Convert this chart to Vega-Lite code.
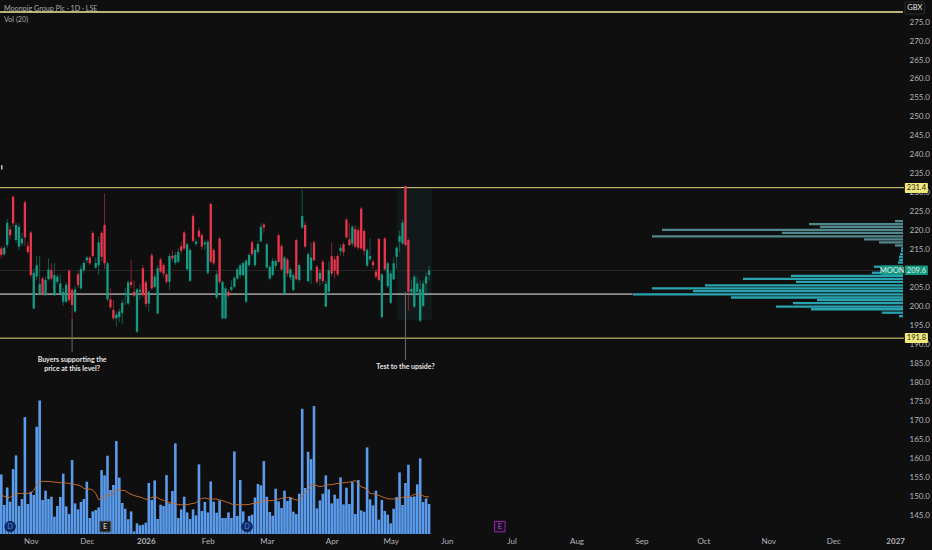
{"$schema":"https://vega.github.io/schema/vega-lite/v6.json","width":904,"height":534,"padding":{"left":0,"top":0,"right":28,"bottom":16},"autosize":{"type":"none"},"background":"#0f0f0f","config":{"view":{"stroke":null},"font":"Lato","scale":{"continuousPadding":0}},"datasets":{"bars":[
{"bar":0,"open":215.4,"high":216,"low":212.8,"close":213.7,"volume":596,"ma":390},
{"bar":1,"open":213.9,"high":216.2,"low":213.4,"close":215.6,"volume":290,"ma":376},
{"bar":2,"open":216.3,"high":223.2,"low":215.5,"close":222.2,"volume":466,"ma":366},
{"bar":3,"open":220.4,"high":221.5,"low":217.8,"close":218.9,"volume":323,"ma":366},
{"bar":4,"open":229,"high":229.4,"low":221,"close":222,"volume":649,"ma":390},
{"bar":5,"open":217.6,"high":222.2,"low":216.8,"close":221.6,"volume":786,"ma":400},
{"bar":6,"open":215.9,"high":222,"low":215,"close":221.1,"volume":280,"ma":406},
{"bar":7,"open":216.7,"high":219.5,"low":216,"close":218,"volume":350,"ma":406},
{"bar":8,"open":227.5,"high":228,"low":216,"close":218.3,"volume":1169,"ma":406},
{"bar":9,"open":216,"high":217,"low":214,"close":214.5,"volume":300,"ma":406},
{"bar":10,"open":219.6,"high":220,"low":207.8,"close":208.4,"volume":423,"ma":413},
{"bar":11,"open":199.6,"high":210,"low":199.4,"close":209,"volume":390,"ma":433},
{"bar":12,"open":208,"high":213.4,"low":207,"close":211,"volume":1072,"ma":490},
{"bar":13,"open":203.3,"high":213.4,"low":203,"close":206,"volume":1335,"ma":523},
{"bar":14,"open":207.5,"high":208,"low":203,"close":203.3,"volume":340,"ma":526},
{"bar":15,"open":203.1,"high":208,"low":202.8,"close":207.1,"volume":433,"ma":526},
{"bar":16,"open":207.3,"high":212.8,"low":207,"close":209.9,"volume":350,"ma":526},
{"bar":17,"open":209.7,"high":211.5,"low":207,"close":207.5,"volume":373,"ma":523},
{"bar":18,"open":203.1,"high":211.5,"low":202.8,"close":208.4,"volume":173,"ma":519},
{"bar":19,"open":206.6,"high":208.5,"low":206,"close":208,"volume":280,"ma":516},
{"bar":20,"open":203.6,"high":208.6,"low":203,"close":206.2,"volume":370,"ma":513},
{"bar":21,"open":201.4,"high":205,"low":200.3,"close":204,"volume":603,"ma":513},
{"bar":22,"open":201.4,"high":206.5,"low":201,"close":205.8,"volume":276,"ma":510},
{"bar":23,"open":209.5,"high":210,"low":201.2,"close":201.8,"volume":200,"ma":506},
{"bar":24,"open":204.5,"high":205,"low":196.5,"close":200.5,"volume":739,"ma":503},
{"bar":25,"open":198.8,"high":205.5,"low":198.5,"close":204.6,"volume":306,"ma":493},
{"bar":26,"open":208.6,"high":209.5,"low":205,"close":205.8,"volume":246,"ma":490},
{"bar":27,"open":204.9,"high":211,"low":204.5,"close":210,"volume":320,"ma":480},
{"bar":28,"open":209.7,"high":212,"low":209,"close":211.6,"volume":350,"ma":456},
{"bar":29,"open":212.3,"high":213.5,"low":211.5,"close":213,"volume":523,"ma":450},
{"bar":30,"open":213,"high":213.5,"low":211,"close":211.5,"volume":160,"ma":450},
{"bar":31,"open":219.5,"high":220,"low":213,"close":213.4,"volume":226,"ma":440},
{"bar":32,"open":210.4,"high":213,"low":210,"close":211.6,"volume":240,"ma":406},
{"bar":33,"open":211,"high":218.5,"low":208.4,"close":217,"volume":266,"ma":343},
{"bar":34,"open":219.5,"high":220,"low":212,"close":213.2,"volume":639,"ma":356},
{"bar":35,"open":221.6,"high":229.9,"low":210,"close":211.5,"volume":586,"ma":373},
{"bar":36,"open":202,"high":212,"low":201.5,"close":211.5,"volume":783,"ma":386},
{"bar":37,"open":202,"high":204.9,"low":199.5,"close":199.9,"volume":440,"ma":396},
{"bar":38,"open":199.2,"high":201.8,"low":196.5,"close":197,"volume":490,"ma":406},
{"bar":39,"open":197,"high":198.8,"low":194.8,"close":198,"volume":929,"ma":446},
{"bar":40,"open":197.3,"high":199.5,"low":196,"close":198.8,"volume":563,"ma":440},
{"bar":41,"open":198.5,"high":202,"low":195.5,"close":201.1,"volume":310,"ma":436},
{"bar":42,"open":203.1,"high":205,"low":200.5,"close":203.6,"volume":253,"ma":433},
{"bar":43,"open":200.9,"high":207,"low":200.5,"close":206.5,"volume":147,"ma":413},
{"bar":44,"open":206.6,"high":212.3,"low":205,"close":205.8,"volume":226,"ma":396},
{"bar":45,"open":204,"high":207,"low":202.5,"close":203,"volume":27,"ma":386},
{"bar":46,"open":193.5,"high":205,"low":193.2,"close":204.6,"volume":107,"ma":376},
{"bar":47,"open":204,"high":206,"low":202,"close":204.5,"volume":87,"ma":370},
{"bar":48,"open":210.2,"high":211,"low":202.5,"close":203.1,"volume":93,"ma":360},
{"bar":49,"open":206.5,"high":207,"low":200,"close":200.8,"volume":113,"ma":346},
{"bar":50,"open":200.9,"high":204.5,"low":198.8,"close":204,"volume":510,"ma":350},
{"bar":51,"open":213.6,"high":214.2,"low":204.5,"close":204.9,"volume":340,"ma":366},
{"bar":52,"open":205.3,"high":208.6,"low":205,"close":208,"volume":536,"ma":373},
{"bar":53,"open":198.3,"high":211,"low":198,"close":210.2,"volume":150,"ma":363},
{"bar":54,"open":212.5,"high":213,"low":209,"close":209.3,"volume":293,"ma":346},
{"bar":55,"open":211,"high":211.5,"low":208,"close":208.8,"volume":280,"ma":336},
{"bar":56,"open":208.6,"high":209,"low":206,"close":206.6,"volume":589,"ma":323},
{"bar":57,"open":206.6,"high":214,"low":204.5,"close":213.4,"volume":306,"ma":316},
{"bar":58,"open":213.5,"high":215,"low":212,"close":212.8,"volume":430,"ma":310},
{"bar":59,"open":211.6,"high":214.5,"low":211,"close":213.7,"volume":906,"ma":303},
{"bar":60,"open":211.9,"high":215.5,"low":211.5,"close":214.5,"volume":160,"ma":293},
{"bar":61,"open":216,"high":217,"low":214,"close":214.8,"volume":246,"ma":293},
{"bar":62,"open":219.6,"high":220,"low":215,"close":215.4,"volume":373,"ma":293},
{"bar":63,"open":209.9,"high":217,"low":209.5,"close":216.5,"volume":216,"ma":293},
{"bar":64,"open":206.9,"high":215.5,"low":206.5,"close":215,"volume":150,"ma":300},
{"bar":65,"open":223.9,"high":224.5,"low":217,"close":217.4,"volume":246,"ma":306},
{"bar":66,"open":216.6,"high":218,"low":216,"close":217.2,"volume":186,"ma":313},
{"bar":67,"open":220.1,"high":221,"low":218,"close":218.5,"volume":696,"ma":340},
{"bar":68,"open":218.9,"high":219.5,"low":215,"close":215.9,"volume":230,"ma":356},
{"bar":69,"open":216.5,"high":217.5,"low":215,"close":217,"volume":320,"ma":360},
{"bar":70,"open":209,"high":217.8,"low":208.5,"close":217.2,"volume":216,"ma":353},
{"bar":71,"open":227.1,"high":227.5,"low":211.5,"close":211.9,"volume":526,"ma":350},
{"bar":72,"open":215,"high":215.5,"low":211,"close":211.5,"volume":323,"ma":350},
{"bar":73,"open":202.5,"high":209.5,"low":202,"close":208.6,"volume":213,"ma":350},
{"bar":74,"open":218,"high":218.5,"low":206,"close":206.6,"volume":336,"ma":340},
{"bar":75,"open":197,"high":207,"low":196.8,"close":206.6,"volume":160,"ma":333},
{"bar":76,"open":197,"high":205.5,"low":196.8,"close":204.9,"volume":160,"ma":323},
{"bar":77,"open":204,"high":204.5,"low":202.5,"close":203,"volume":216,"ma":313},
{"bar":78,"open":204.5,"high":207,"low":204,"close":205.3,"volume":160,"ma":300},
{"bar":79,"open":205.3,"high":208,"low":205,"close":207.7,"volume":826,"ma":293},
{"bar":80,"open":207.5,"high":210.5,"low":207,"close":209.9,"volume":180,"ma":293},
{"bar":81,"open":208.4,"high":211.5,"low":207.5,"close":211,"volume":539,"ma":293},
{"bar":82,"open":208.4,"high":212,"low":208,"close":211.6,"volume":226,"ma":293},
{"bar":83,"open":201.4,"high":212.6,"low":201,"close":212.2,"volume":93,"ma":293},
{"bar":84,"open":211,"high":214.2,"low":210.5,"close":213.7,"volume":180,"ma":296},
{"bar":85,"open":217,"high":217.5,"low":213.5,"close":213.9,"volume":193,"ma":303},
{"bar":86,"open":211,"high":215.5,"low":210.5,"close":215,"volume":366,"ma":306},
{"bar":87,"open":214.5,"high":217.5,"low":214,"close":216.6,"volume":500,"ma":313},
{"bar":88,"open":217.3,"high":222,"low":217,"close":221.1,"volume":486,"ma":320},
{"bar":89,"open":221.7,"high":222.2,"low":219.5,"close":220.9,"volume":729,"ma":336},
{"bar":90,"open":210.4,"high":217,"low":210,"close":216.5,"volume":373,"ma":336},
{"bar":91,"open":207.5,"high":211,"low":207,"close":210.6,"volume":220,"ma":333},
{"bar":92,"open":208.4,"high":213,"low":208,"close":212.1,"volume":183,"ma":333},
{"bar":93,"open":210.8,"high":212.6,"low":210,"close":212.1,"volume":453,"ma":343},
{"bar":94,"open":218.9,"high":219.3,"low":211.5,"close":211.9,"volume":326,"ma":350},
{"bar":95,"open":216,"high":216.5,"low":209.5,"close":209.9,"volume":260,"ma":356},
{"bar":96,"open":203.4,"high":213.5,"low":203.2,"close":213,"volume":433,"ma":363},
{"bar":97,"open":212.5,"high":213,"low":208,"close":208.8,"volume":330,"ma":366},
{"bar":98,"open":207.8,"high":210.5,"low":207,"close":209.9,"volume":366,"ma":366},
{"bar":99,"open":204.5,"high":209,"low":204,"close":208.4,"volume":223,"ma":350},
{"bar":100,"open":217.6,"high":218,"low":207,"close":207.3,"volume":200,"ma":340},
{"bar":101,"open":207.1,"high":211.5,"low":206.5,"close":211,"volume":403,"ma":340},
{"bar":102,"open":220.9,"high":230.8,"low":220.5,"close":223.9,"volume":1252,"ma":380},
{"bar":103,"open":221.6,"high":222.5,"low":215.5,"close":215.9,"volume":460,"ma":413},
{"bar":104,"open":206.8,"high":214.5,"low":206.5,"close":213.9,"volume":822,"ma":440},
{"bar":105,"open":209.7,"high":217,"low":206,"close":213,"volume":749,"ma":490},
{"bar":106,"open":217,"high":217.5,"low":212,"close":212.3,"volume":1279,"ma":496},
{"bar":107,"open":210.6,"high":211,"low":206,"close":206.6,"volume":256,"ma":483},
{"bar":108,"open":207.3,"high":210,"low":205.5,"close":209,"volume":336,"ma":473},
{"bar":109,"open":211.9,"high":212.5,"low":206,"close":206.8,"volume":403,"ma":480},
{"bar":110,"open":200.1,"high":207,"low":200,"close":206.1,"volume":586,"ma":486},
{"bar":111,"open":204,"high":212,"low":203.5,"close":209.7,"volume":446,"ma":493},
{"bar":112,"open":213.4,"high":217,"low":208,"close":208.8,"volume":306,"ma":493},
{"bar":113,"open":212.5,"high":213.5,"low":207.5,"close":209.5,"volume":393,"ma":500},
{"bar":114,"open":213.4,"high":214,"low":208,"close":208.6,"volume":353,"ma":506},
{"bar":115,"open":214.7,"high":216.5,"low":213.5,"close":215.6,"volume":566,"ma":506},
{"bar":116,"open":216.5,"high":217,"low":213.5,"close":214.4,"volume":296,"ma":513},
{"bar":117,"open":223,"high":223.5,"low":218,"close":218.3,"volume":463,"ma":513},
{"bar":118,"open":217.8,"high":222,"low":216,"close":216.3,"volume":300,"ma":519},
{"bar":119,"open":216.7,"high":221.6,"low":216,"close":221.1,"volume":519,"ma":526},
{"bar":120,"open":220.5,"high":221.5,"low":215.5,"close":215.9,"volume":200,"ma":533},
{"bar":121,"open":220.2,"high":221,"low":215,"close":215.6,"volume":539,"ma":506},
{"bar":122,"open":225.9,"high":226.3,"low":215,"close":215.4,"volume":236,"ma":470},
{"bar":123,"open":220,"high":220.5,"low":213.5,"close":214.8,"volume":223,"ma":463},
{"bar":124,"open":210.9,"high":215.5,"low":210.5,"close":215,"volume":866,"ma":446},
{"bar":125,"open":212.6,"high":218,"low":212,"close":213.4,"volume":346,"ma":406},
{"bar":126,"open":211.9,"high":212.5,"low":210,"close":211,"volume":286,"ma":403},
{"bar":127,"open":209.3,"high":210,"low":207.5,"close":208,"volume":433,"ma":396},
{"bar":128,"open":217.9,"high":218.3,"low":206.8,"close":207.1,"volume":143,"ma":386},
{"bar":129,"open":197.3,"high":209,"low":197,"close":208.6,"volume":340,"ma":373},
{"bar":130,"open":218,"high":218.5,"low":209.5,"close":209.9,"volume":230,"ma":363},
{"bar":131,"open":205.5,"high":212,"low":205,"close":211.5,"volume":193,"ma":353},
{"bar":132,"open":201.1,"high":209.5,"low":200.8,"close":208.8,"volume":107,"ma":350},
{"bar":133,"open":207.3,"high":213,"low":207,"close":211.5,"volume":253,"ma":350},
{"bar":134,"open":213.2,"high":216,"low":210,"close":215.6,"volume":370,"ma":353},
{"bar":135,"open":217.2,"high":220,"low":214.5,"close":218.7,"volume":616,"ma":356},
{"bar":136,"open":216.7,"high":223,"low":216.5,"close":222.2,"volume":290,"ma":366},
{"bar":137,"open":231.8,"high":232,"low":216,"close":216.3,"volume":510,"ma":373},
{"bar":138,"open":217.6,"high":218,"low":199,"close":204,"volume":693,"ma":370},
{"bar":139,"open":204,"high":207,"low":203,"close":204.7,"volume":370,"ma":380},
{"bar":140,"open":200.1,"high":208.5,"low":199.8,"close":208,"volume":376,"ma":396},
{"bar":141,"open":204,"high":208,"low":203,"close":206.2,"volume":496,"ma":400},
{"bar":142,"open":196.4,"high":207,"low":196,"close":204.7,"volume":756,"ma":400},
{"bar":143,"open":200.3,"high":207,"low":200,"close":206.2,"volume":320,"ma":380},
{"bar":144,"open":206.2,"high":209,"low":203,"close":208,"volume":356,"ma":373},
{"bar":145,"open":208.4,"high":210.8,"low":207,"close":209.6,"volume":300,"ma":370}
],"profile":[
{"level":222.6,"size":8},{"level":221.8,"size":94},{"level":221.1,"size":83},{"level":220.3,"size":241},{"level":219.5,"size":121},{"level":218.6,"size":251},{"level":217.8,"size":39},{"level":217,"size":24},{"level":216.2,"size":8},{"level":215.4,"size":2},{"level":214.7,"size":2},{"level":213.9,"size":3},{"level":213.2,"size":4},{"level":212.4,"size":4},{"level":211.7,"size":5},{"level":210.6,"size":29},{"level":209.7,"size":14},{"level":209,"size":31},{"level":208.2,"size":112},{"level":207.4,"size":160},{"level":206.6,"size":107},{"level":205.7,"size":198},{"level":204.9,"size":251},{"level":204.2,"size":210},{"level":203.3,"size":270},{"level":202.5,"size":172},{"level":201.8,"size":86},{"level":201,"size":110},{"level":200.1,"size":127},{"level":199.4,"size":92},{"level":198.5,"size":21},{"level":197.6,"size":4}
]},"layer":[
{"data":{"values":[{"bar":0,"price":200}]},"mark":{"type":"rule","opacity":0},"encoding":{"x":{"field":"bar","type":"quantitative","scale":{"domain":[-0.44,306],"nice":false,"zero":false},"axis":{"values":[10,29,49,70,90,112,132,151,173,195,217,238,260,282,303],"labelExpr":"{'10':'Nov','29':'Dec','49':'2026','70':'Feb','90':'Mar','112':'Apr','132':'May','151':'Jun','173':'Jul','195':'Aug','217':'Sep','238':'Oct','260':'Nov','282':'Dec','303':'2027'}[''+datum.value]","title":null,"domain":false,"ticks":false,"grid":false,"labelColor":"#b2b5bb","labelFont":"Lato","labelFontSize":8,"labelPadding":3,"labelFlush":false,"labelOverlap":false,"labelFontWeight":{"condition":{"test":"datum.value == 49 || datum.value == 303","value":"bold"},"value":"normal"}}},"y":{"field":"price","type":"quantitative","scale":{"domain":[140.26,280.79],"nice":false,"zero":false},"axis":{"orient":"right","values":[145,150,155,160,165,170,175,180,185,190,195,200,205,215,220,225,230,235,240,245,250,255,260,265,270,275],"format":".1f","title":null,"domain":false,"ticks":false,"grid":false,"labelColor":"#b2b5bb","labelFont":"Lato","labelFontSize":8,"labelPadding":5,"labelOverlap":false}}}},
{"data":{"name":"bars"},"layer":[
{"mark":{"type":"bar","width":2.6,"color":"#5a9bec"},"encoding":{"x":{"field":"bar","type":"quantitative","scale":{"domain":[-0.44,306],"nice":false,"zero":false},"axis":null},"y":{"field":"volume","type":"quantitative","scale":{"domain":[0,5340],"nice":false},"axis":null}}},
{"mark":{"type":"line","color":"#c46a2c","strokeWidth":1},"encoding":{"x":{"field":"bar","type":"quantitative","scale":{"domain":[-0.44,306],"nice":false,"zero":false},"axis":null},"y":{"field":"ma","type":"quantitative","scale":{"domain":[0,5340],"nice":false},"axis":null}}}
]},
{"data":{"name":"profile"},"mark":{"type":"bar","orient":"horizontal","height":2.3},"encoding":{"x":{"field":"size","type":"quantitative","scale":{"domain":[903,-1],"nice":false,"zero":false},"axis":null},"x2":{"datum":0},"y":{"field":"level","type":"quantitative","scale":{"domain":[140.26,280.79],"nice":false,"zero":false},"axis":null},"color":{"condition":{"test":"datum.level > 215.8","value":"#52878e"},"value":"#2aa3b0"}}},
{"encoding":{"x":{"field":"bar","type":"quantitative","scale":{"domain":[-0.44,306],"nice":false,"zero":false},"axis":null},"y":{"field":"price","type":"quantitative","scale":{"domain":[140.26,280.79],"nice":false,"zero":false},"axis":null}},"layer":[
{"data":{"values":[{"bar":134,"bar2":146,"price":231,"price2":196.5}]},"mark":{"type":"rect","color":"#17383c","opacity":0.25},"encoding":{"x2":{"field":"bar2"},"y2":{"field":"price2"}}},
{"data":{"values":[{"bar":0.9,"price":278.5,"label":"Moonpig Group Plc · 1D · LSE"},{"bar":0.9,"price":275.4,"label":"Vol (20)"}]},"mark":{"type":"text","align":"left","baseline":"middle","fontSize":7.2,"color":"#a5a8ae"},"encoding":{"text":{"field":"label"}}},
{"data":{"values":[{"price":209.6,"bar":-0.44,"bar2":306,"w":"last"}]},"mark":{"type":"rule","color":"#262626","strokeWidth":1},"encoding":{"x2":{"field":"bar2"}}},
{"data":{"values":[{"price":277.63,"bar":-0.44,"bar2":305.6}]},"mark":{"type":"rule","color":"#f5ec9a","strokeWidth":1.5},"encoding":{"x2":{"field":"bar2"}}},
{"data":{"values":[{"price":231.4,"bar":-0.44,"bar2":306},{"price":191.8,"bar":-0.44,"bar2":306}]},"mark":{"type":"rule","color":"#e6dc82","strokeWidth":1},"encoding":{"x2":{"field":"bar2"}}},
{"data":{"values":[{"price":203.4,"bar":-0.44,"bar2":214}]},"mark":{"type":"rule","color":"#f0f0ec","strokeWidth":1},"encoding":{"x2":{"field":"bar2"}}},
{"data":{"values":[{"bar":24,"price":196.8,"price2":188.2},{"bar":137,"price":204,"price2":186.05}]},"mark":{"type":"rule","color":"#6b6b6b","strokeWidth":1},"encoding":{"y2":{"field":"price2"}}},
{"data":{"name":"bars"},"mark":{"type":"rule","strokeWidth":0.9,"opacity":0.6},"encoding":{"x":{"field":"bar","type":"quantitative","scale":{"domain":[-0.44,306],"nice":false,"zero":false},"axis":null},"y":{"field":"low","type":"quantitative","scale":{"domain":[140.26,280.79],"nice":false,"zero":false},"axis":null},"y2":{"field":"high"},"color":{"condition":{"test":"datum.close >= datum.open","value":"#149c85"},"value":"#e9364c"}}},
{"data":{"name":"bars"},"mark":{"type":"bar","width":2.3},"encoding":{"x":{"field":"bar","type":"quantitative","scale":{"domain":[-0.44,306],"nice":false,"zero":false},"axis":null},"y":{"field":"open","type":"quantitative","scale":{"domain":[140.26,280.79],"nice":false,"zero":false},"axis":null},"y2":{"field":"close"},"color":{"condition":{"test":"datum.close >= datum.open","value":"#149c85"},"value":"#e9364c"}}},
{"data":{"values":[{"bar":24,"price":186.05,"label":"Buyers supporting the"},{"bar":24,"price":183.7,"label":"price at this level?"},{"bar":137,"price":184.2,"label":"Test to the upside?"}]},"mark":{"type":"text","align":"center","baseline":"middle","fontSize":7,"fontWeight":"bold","color":"#e4e4e4"},"encoding":{"text":{"field":"label"}}},
{"data":{"values":[{"bar":306.3,"bar2":314.1,"price":232.6,"price2":230,"label":"231.4","kind":"line"},{"bar":306.3,"bar2":314.1,"price":193.16,"price2":190.5,"label":"191.8","kind":"line"},{"bar":306.3,"bar2":314.1,"price":210.9,"price2":208.4,"label":"209.6","kind":"last"},{"bar":298.2,"bar2":305.7,"price":210.9,"price2":208.4,"label":"MOON","kind":"last"},{"bar":306.3,"bar2":313,"price":280.3,"price2":277.1,"label":"GBX","kind":"unit"},{"bar":-0.1,"bar2":0.4,"price":237.4,"price2":236.1,"label":"","kind":"edge"}]},"mark":{"type":"rect","cornerRadius":1,"strokeWidth":0.7},"encoding":{"x2":{"field":"bar2"},"y2":{"field":"price2"},"color":{"field":"kind","type":"nominal","legend":null,"scale":{"domain":["line","last","unit","edge"],"range":["#f1e97c","#0f9a80","#0f0f0f","#c8c8c8"]}},"stroke":{"condition":{"test":"datum.kind == 'unit'","value":"#3a3a3a"},"value":null}}},
{"data":{"values":[{"bar":310.2,"price":231.3,"label":"231.4","kind":"line"},{"bar":310.2,"price":191.8,"label":"191.8","kind":"line"},{"bar":310.2,"price":209.6,"label":"209.6","kind":"last"},{"bar":302,"price":209.6,"label":"MOON","kind":"last"},{"bar":309.7,"price":278.7,"label":"GBX","kind":"unit"}]},"mark":{"type":"text","align":"center","baseline":"middle","fontSize":7.5},"encoding":{"text":{"field":"label"},"fill":{"condition":{"test":"datum.kind == 'line'","value":"#1a1a1a"},"value":"#e6e6e6"}}},
{"data":{"values":[{"bar":3,"price":142.2,"label":"D","kind":"dividend"},{"bar":35.2,"price":142.2,"label":"E","kind":"earnings"},{"bar":83.3,"price":142.2,"label":"D","kind":"dividend"},{"bar":169,"price":142.2,"label":"E","kind":"next"}]},"mark":{"type":"point","filled":true,"strokeWidth":1,"opacity":1,"size":110},"encoding":{"shape":{"condition":{"test":"datum.kind == 'dividend'","value":"circle"},"value":"square"},"fill":{"condition":[{"test":"datum.kind == 'dividend'","value":"#0c2a66"},{"test":"datum.kind == 'next'","value":"#190f22"}],"value":"#1c1c1c"},"stroke":{"condition":[{"test":"datum.kind == 'dividend'","value":"#10224d"},{"test":"datum.kind == 'next'","value":"#9a27ae"}],"value":"#4a4a4a"}}},
{"data":{"values":[{"bar":3,"price":142.2,"label":"D","kind":"dividend"},{"bar":35.2,"price":142.2,"label":"E","kind":"earnings"},{"bar":83.3,"price":142.2,"label":"D","kind":"dividend"},{"bar":169,"price":142.2,"label":"E","kind":"next"}]},"mark":{"type":"text","align":"center","baseline":"middle","fontSize":7.5},"encoding":{"text":{"field":"label"},"fill":{"condition":[{"test":"datum.kind == 'dividend'","value":"#4a80e8"},{"test":"datum.kind == 'next'","value":"#b04fd0"}],"value":"#e6e6e6"}}}
]}
],"resolve":{"scale":{"x":"independent","y":"independent","color":"independent"}}}
